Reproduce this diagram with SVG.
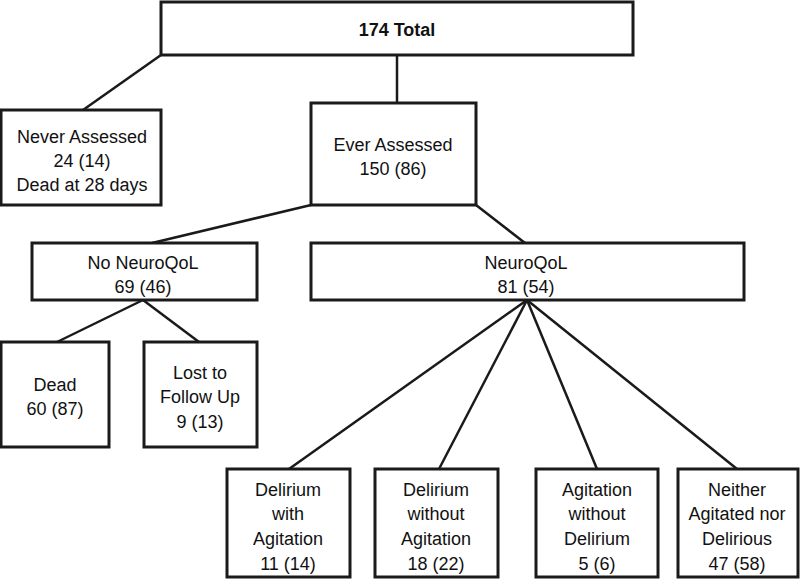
<svg xmlns="http://www.w3.org/2000/svg" width="800" height="580" viewBox="0 0 800 580">
<style>
.box{fill:#fff;stroke:#1a1a1a;stroke-width:3}
.ln{stroke:#1a1a1a;stroke-width:2.5;fill:none}
text{font-family:"Liberation Sans",Arial,sans-serif;font-size:18px;fill:#111;text-anchor:middle}
.b{font-weight:bold;font-size:18px}
</style>
<rect width="800" height="580" fill="#fff"/>
<g id="connectors">
<line class="ln" x1="161" y1="55" x2="83" y2="110"/>
<line class="ln" x1="397" y1="55" x2="397" y2="103"/>
<line class="ln" x1="311" y1="205" x2="152" y2="243"/>
<line class="ln" x1="476" y1="205" x2="525" y2="243"/>
<line class="ln" x1="143" y1="300" x2="57" y2="342"/>
<line class="ln" x1="143" y1="300" x2="199" y2="342"/>
<line class="ln" x1="527" y1="300" x2="289" y2="469"/>
<line class="ln" x1="527" y1="300" x2="439" y2="469"/>
<line class="ln" x1="527" y1="300" x2="597" y2="469"/>
<line class="ln" x1="527" y1="300" x2="737" y2="469"/>
</g>
<g id="total">
<rect class="box" x="161" y="2" width="472" height="53"/>
<text class="b" x="397" y="36">174 Total</text>
</g>
<g id="never">
<rect class="box" x="1" y="110" width="160" height="95"/>
<text x="82" y="143">Never Assessed</text>
<text x="82" y="167">24 (14)</text>
<text x="82" y="191">Dead at 28 days</text>
</g>
<g id="ever">
<rect class="box" x="311" y="103" width="165" height="102"/>
<text x="393" y="151">Ever Assessed</text>
<text x="393" y="175">150 (86)</text>
</g>
<g id="noneuro">
<rect class="box" x="32" y="243" width="225" height="57"/>
<text x="143" y="269">No NeuroQoL</text>
<text x="143" y="293">69 (46)</text>
</g>
<g id="neuro">
<rect class="box" x="311" y="243" width="433" height="57"/>
<text x="526" y="269">NeuroQoL</text>
<text x="526" y="293">81 (54)</text>
</g>
<g id="dead">
<rect class="box" x="1" y="342" width="108" height="105"/>
<text x="55" y="391">Dead</text>
<text x="55" y="415">60 (87)</text>
</g>
<g id="lost">
<rect class="box" x="144" y="342" width="113" height="105"/>
<text x="200" y="379">Lost to</text>
<text x="200" y="403">Follow Up</text>
<text x="200" y="428">9 (13)</text>
</g>
<g id="dwa">
<rect class="box" x="227" y="469" width="123" height="108"/>
<text x="288" y="496">Delirium</text>
<text x="288" y="520">with</text>
<text x="288" y="545">Agitation</text>
<text x="288" y="570">11 (14)</text>
</g>
<g id="dwoa">
<rect class="box" x="375" y="469" width="123" height="108"/>
<text x="436" y="496">Delirium</text>
<text x="436" y="520">without</text>
<text x="436" y="545">Agitation</text>
<text x="436" y="570">18 (22)</text>
</g>
<g id="awod">
<rect class="box" x="536" y="469" width="122" height="108"/>
<text x="597" y="496">Agitation</text>
<text x="597" y="520">without</text>
<text x="597" y="545">Delirium</text>
<text x="597" y="570">5 (6)</text>
</g>
<g id="neither">
<rect class="box" x="678" y="469" width="120" height="108"/>
<text x="737" y="496">Neither</text>
<text x="737" y="520">Agitated nor</text>
<text x="737" y="545">Delirious</text>
<text x="737" y="570">47 (58)</text>
</g>
</svg>
